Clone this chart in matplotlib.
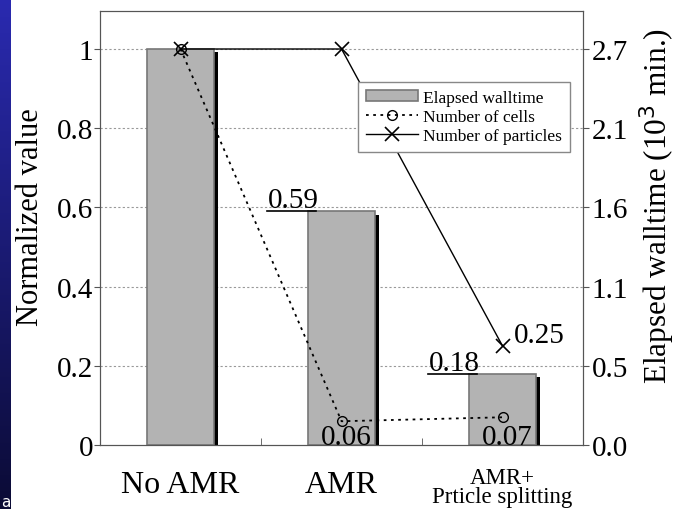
import numpy as np
import matplotlib
matplotlib.use("Agg")
import matplotlib.pyplot as plt

plt.rcParams['font.family'] = ['Liberation Serif', 'DejaVu Serif']

categories = ["No AMR", "AMR", "AMR+\nPrticle splitting"]
walltime = [1.0, 0.59, 0.18]
cells = [1.0, 0.06, 0.07]
particles = [1.0, 1.0, 0.25]
left_ticks = [0, 0.2, 0.4, 0.6, 0.8, 1.0]
left_labels = ["0", "0.2", "0.4", "0.6", "0.8", "1"]
right_labels = ["0.0", "0.5", "1.1", "1.6", "2.1", "2.7"]

fig = plt.figure(figsize=(6.76, 5.10), dpi=100)

# blue strip at the left edge
bg = fig.add_axes([0, 0, 0.016, 1])
grad = np.linspace(1, 0, 256).reshape(-1, 1)
bg.imshow(grad, aspect='auto', cmap=matplotlib.colors.LinearSegmentedColormap.from_list(
    "b", ["#0b0b35", "#2a2ab0"]), extent=[0, 1, 0, 1])
bg.axis('off')
fig.text(0.001, 0.005, "a", color="white", fontsize=11, family='DejaVu Sans')

ax = fig.add_axes([0.148, 0.1255, 0.7145, 0.851])
x = np.arange(len(categories))
w = 0.42

for yv in left_ticks[1:]:
    ax.axhline(yv, color="#999999", lw=0.8, ls=(0, (2, 2)), zorder=0)

# shadow on the right side of bars
ax.bar(x + w / 2 - 0.005, [h - 0.008 for h in walltime], width=0.028, bottom=0,
       color="black", align='edge', zorder=1)
bars = ax.bar(x, walltime, width=w, color="#b3b3b3", edgecolor="#777777", lw=1.2,
              zorder=2, label="Elapsed walltime")

l1, = ax.plot(x, cells, color="black", ls=(0, (1.5, 2.5)), lw=1.3, marker='o', ms=7,
              mfc='none', mec='black', mew=1, zorder=4, label="Number of cells")
l2, = ax.plot(x, particles, color="black", ls='-', lw=1, marker='x', ms=10,
              mew=1.2, zorder=4, label="Number of particles")

# value labels
for i in [1, 2]:
    left = x[i] - w / 2
    ax.plot([left - 0.25, left + 0.05], [walltime[i], walltime[i]], color="black",
            lw=1.2, zorder=5)
    ax.text(left - 0.25, walltime[i] - 0.005, f"{walltime[i]:.2f}",
            fontsize=21, ha='left', va='bottom', zorder=5)
for i in [1, 2]:
    ax.text(x[i] + 0.03, -0.012, f"{cells[i]:.2f}", fontsize=21,
            ha='center', va='bottom', zorder=5)
ax.text(x[2] + 0.07, particles[2] - 0.005, f"{particles[2]:.2f}", fontsize=21,
        ha='left', va='bottom', zorder=5)

ax.set_xlim(-0.5, 2.5)
ax.set_ylim(0, 1.096)
ax.set_xticks(x)
ax.set_xticklabels([])
ax.tick_params(axis='x', length=0)
ax.set_xticks([0.5, 1.5], minor=True)
ax.tick_params(axis='x', which='minor', direction='in', length=5, color="#555555")
ax.text(0, -0.1, categories[0], fontsize=23, ha='center', va='center')
ax.text(1, -0.1, categories[1], fontsize=23, ha='center', va='center')
ax.text(2, -0.106, categories[2], fontsize=16.5, ha='center', va='center',
        linespacing=0.88)

ax.set_yticks(left_ticks)
ax.set_yticklabels(left_labels, fontsize=21)
ax.tick_params(axis='y', direction='out', length=4, color="#555555", pad=1)
ax.set_ylabel("Normalized value", fontsize=22)
ax.yaxis.set_label_coords(-0.113, 0.527)
for s in ax.spines.values():
    s.set_color("#555555")

ax2 = ax.twinx()
ax2.set_ylim(0, 1.096)
ax2.set_yticks(left_ticks)
ax2.set_yticklabels(right_labels, fontsize=21)
ax2.tick_params(axis='y', direction='out', length=4, color="#555555", pad=2)
ax2.set_ylabel("Elapsed walltime (10$^3$ min.)", fontsize=22.5)
ax2.yaxis.set_label_coords(1.113, 0.552)
for s in ax2.spines.values():
    s.set_color("#555555")

leg = ax.legend(handles=[bars, l1, l2], loc='upper right',
                bbox_to_anchor=(0.99, 0.857), fontsize=12.5,
                fancybox=False, edgecolor="#888888", framealpha=1,
                handlelength=3.0, handleheight=0.6, handletextpad=0.3,
                borderpad=0.45, labelspacing=0.18)
leg.set_zorder(6)
leg.get_frame().set_linewidth(1)

fig.savefig("out.png", dpi=100)
